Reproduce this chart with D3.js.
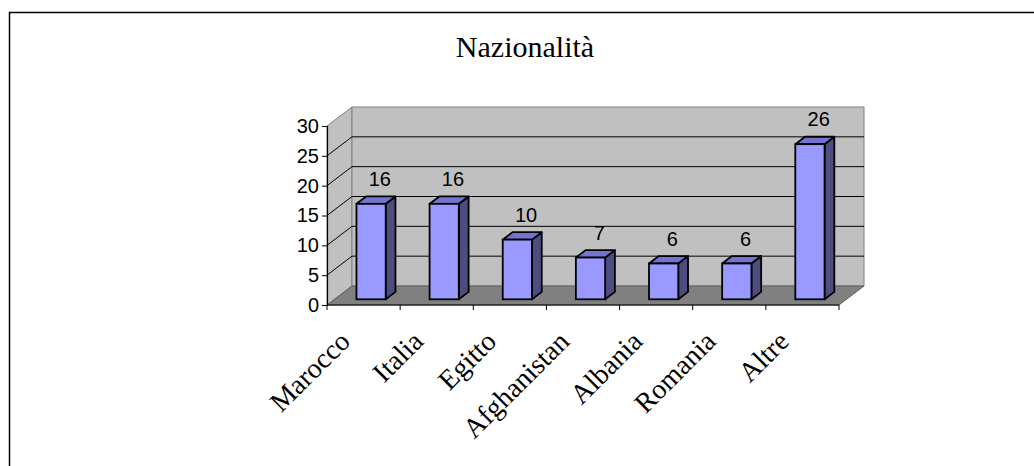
<!DOCTYPE html>
<html>
<head>
<meta charset="utf-8">
<script src="https://cdn.jsdelivr.net/npm/d3@7"></script>
<style>
  body { margin: 0; background: #fff; }
  svg { display: block; }
</style>
</head>
<body>
<svg id="chart" width="1034" height="466"></svg>
<script>
// chart data
var categories = ["Marocco", "Italia", "Egitto", "Afghanistan", "Albania", "Romania", "Altre"];
var values = [16, 16, 10, 7, 6, 6, 26];
var yTicks = [0, 5, 10, 15, 20, 25, 30];
var title = "Nazionalità";

var svg = d3.select("#chart");

// frame (only top and left edges are inside the picture)
svg.append("rect")
	.attr("x", 9.5).attr("y", 12.5)
	.attr("width", 1200).attr("height", 800)
	.attr("fill", "none").attr("stroke", "#000").attr("stroke-width", 1.5);

svg.append("text")
	.attr("x", 525).attr("y", 57)
	.attr("text-anchor", "middle")
	.attr("font-family", "'Liberation Serif', 'Times New Roman', serif")
	.attr("font-size", 30)
	.text(title);

/*
 * front plane scales and the depth offset of the 3d box
 */
var x = d3.scaleBand().domain(categories).range([327, 839]).padding(0);
var y = d3.scaleLinear().domain([0, 30]).range([305, 126]);
var depthX = 25, depthY = -19;

var x0 = x.range()[0], x1 = x.range()[1];
var yTop = y(30), yBot = y(0);

// side wall
svg.append("polygon")
	.attr("points", [[x0, yBot], [x0, yTop], [x0 + depthX, yTop + depthY], [x0 + depthX, yBot + depthY]].join(" "))
	.attr("fill", "#c0c0c0").attr("stroke", "#808080").attr("stroke-width", 1);

// back wall
svg.append("polygon")
	.attr("points", [[x0 + depthX, yBot + depthY], [x0 + depthX, yTop + depthY], [x1 + depthX, yTop + depthY], [x1 + depthX, yBot + depthY]].join(" "))
	.attr("fill", "#c0c0c0").attr("stroke", "#808080").attr("stroke-width", 1);

// gridlines on back wall and side wall
var grid = svg.append("g").attr("stroke", "#000").attr("stroke-width", 1);
yTicks.filter(function(d) { return d > 0 && d < 30; }).forEach(function(d) {
	grid.append("line")
		.attr("x1", x0 + depthX).attr("x2", x1 + depthX)
		.attr("y1", y(d) + depthY).attr("y2", y(d) + depthY);
});
yTicks.filter(function(d) { return d > 0 && d < 30; }).forEach(function(d) {
	grid.append("line")
		.attr("x1", x0).attr("x2", x0 + depthX)
		.attr("y1", y(d)).attr("y2", y(d) + depthY);
});

// floor
svg.append("polygon")
	.attr("points", [[x0, yBot], [x1, yBot], [x1 + depthX, yBot + depthY], [x0 + depthX, yBot + depthY]].join(" "))
	.attr("fill", "#808080").attr("stroke", "#606060").attr("stroke-width", 1);

// bars
var f0 = 0.3, f1 = 0.69;
var barW = x.bandwidth() / 2.5;
var bars = svg.append("g").selectAll(".bar")
	.data(values.map(function(v, i) { return {cat: categories[i], value: v}; }))
	.enter().append("g").attr("class", "bar");

function barGeom(d) {
	var cx = x(d.cat) + x.bandwidth() / 2;
	var l = cx - barW / 2 + f0 * depthX, r = l + barW;
	var b = yBot + f0 * depthY, t = y(d.value) + f0 * depthY;
	var ox = (f1 - f0) * depthX, oy = (f1 - f0) * depthY;
	return {l: l, r: r, b: b, t: t, ox: ox, oy: oy};
}

bars.append("polygon")
	.attr("points", function(d) {
		var g = barGeom(d);
		return [[g.r, g.b], [g.r, g.t], [g.r + g.ox, g.t + g.oy], [g.r + g.ox, g.b + g.oy]].join(" ");
	})
	.attr("fill", "#4d4d80").attr("stroke", "#000").attr("stroke-width", 1.8).attr("stroke-linejoin", "round");

bars.append("polygon")
	.attr("points", function(d) {
		var g = barGeom(d);
		return [[g.l, g.t], [g.r, g.t], [g.r + g.ox, g.t + g.oy], [g.l + g.ox, g.t + g.oy]].join(" ");
	})
	.attr("fill", "#7373d0").attr("stroke", "#000").attr("stroke-width", 1.8).attr("stroke-linejoin", "round");

bars.append("rect")
	.attr("x", function(d) { return barGeom(d).l; })
	.attr("y", function(d) { return barGeom(d).t; })
	.attr("width", barW)
	.attr("height", function(d) { var g = barGeom(d); return g.b - g.t; })
	.attr("fill", "#9999ff").attr("stroke", "#000").attr("stroke-width", 1.8);

// value labels
bars.append("text")
	.attr("x", function(d) { var g = barGeom(d); return (g.l + g.r) / 2 + g.ox - 1; })
	.attr("y", function(d) { var g = barGeom(d); return g.t + g.oy - 10.5; })
	.attr("text-anchor", "middle")
	.attr("font-family", "'Liberation Sans', Arial, sans-serif")
	.attr("font-size", 20)
	.text(function(d) { return d.value; });

// value axis
var yAxis = svg.append("g")
	.attr("transform", "translate(" + x0 + ",0)")
	.call(d3.axisLeft(y).tickValues(yTicks).tickSize(5).tickPadding(3));
yAxis.select(".domain").attr("stroke", "#000").attr("stroke-width", 1.2);
yAxis.selectAll(".tick line").attr("stroke", "#000");
yAxis.selectAll(".tick text")
	.attr("font-family", "'Liberation Sans', Arial, sans-serif")
	.attr("font-size", 20).attr("fill", "#000");

// category axis, ticks at band boundaries
var bounds = categories.map(function(c) { return x(c); }).concat([x1]);
var xAxis = svg.append("g");
xAxis.append("line")
	.attr("x1", x0).attr("x2", x1).attr("y1", yBot).attr("y2", yBot)
	.attr("stroke", "#000").attr("stroke-width", 1.2);
xAxis.selectAll(".tk").data(bounds).enter().append("line")
	.attr("x1", function(d) { return d; }).attr("x2", function(d) { return d; })
	.attr("y1", yBot).attr("y2", yBot + 5)
	.attr("stroke", "#000");
xAxis.selectAll(".lbl").data(categories).enter().append("text")
	.attr("transform", function(d) {
		return "translate(" + (x(d) + x.bandwidth() / 2 - 12) + "," + (yBot + 38) + ") rotate(-45)";
	})
	.attr("text-anchor", "end")
	.attr("font-family", "'Liberation Serif', 'Times New Roman', serif")
	.attr("font-size", 28)
	.text(function(d) { return d; });
</script>
</body>
</html>
